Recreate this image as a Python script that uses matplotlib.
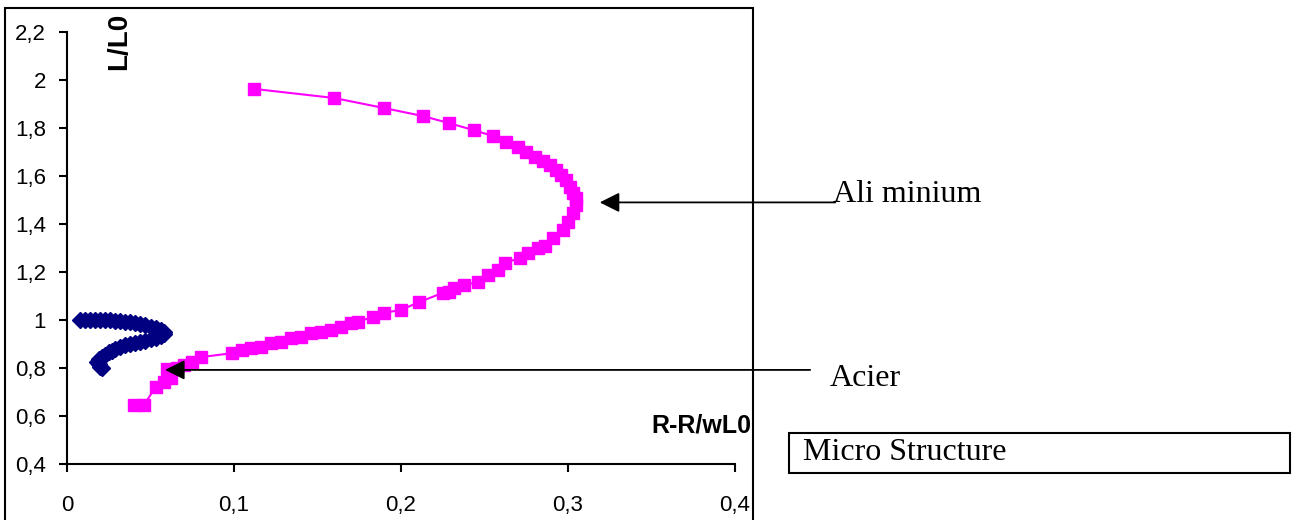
import matplotlib.pyplot as plt
from matplotlib.patches import Rectangle

# Ali minium (magenta squares)
alu_x = [0.040, 0.046, 0.053, 0.058, 0.062, 0.060, 0.066, 0.070, 0.075, 0.080,
         0.099, 0.105, 0.110, 0.116, 0.122, 0.128, 0.134, 0.140, 0.146, 0.152,
         0.158, 0.164, 0.170, 0.174, 0.183, 0.190, 0.200, 0.211, 0.225, 0.229,
         0.232, 0.238, 0.246, 0.252, 0.258, 0.262, 0.271, 0.276, 0.282, 0.286,
         0.291, 0.297, 0.300, 0.303, 0.305, 0.305, 0.303, 0.301, 0.299, 0.296,
         0.293, 0.289, 0.285, 0.280, 0.275, 0.270, 0.263, 0.255, 0.244, 0.229,
         0.213, 0.190, 0.160, 0.112]
alu_y = [0.645, 0.645, 0.720, 0.740, 0.760, 0.795, 0.800, 0.812, 0.825, 0.845,
         0.862, 0.875, 0.883, 0.887, 0.904, 0.908, 0.925, 0.929, 0.946, 0.950,
         0.958, 0.970, 0.988, 0.992, 1.013, 1.030, 1.042, 1.075, 1.113, 1.117,
         1.133, 1.146, 1.158, 1.188, 1.208, 1.237, 1.258, 1.280, 1.300, 1.310,
         1.340, 1.375, 1.410, 1.445, 1.480, 1.510, 1.530, 1.555, 1.583, 1.604,
         1.625, 1.646, 1.663, 1.680, 1.700, 1.720, 1.740, 1.767, 1.790, 1.820,
         1.850, 1.883, 1.925, 1.963]

# Acier (navy diamonds)
steel_x = [0.008, 0.011, 0.014, 0.017, 0.020, 0.023, 0.026, 0.029, 0.032, 0.035,
           0.038, 0.041, 0.044, 0.047, 0.050, 0.053, 0.056, 0.058, 0.058, 0.056,
           0.053, 0.050, 0.047, 0.044, 0.041, 0.038, 0.035, 0.032, 0.029, 0.027,
           0.025, 0.023, 0.021, 0.019, 0.018, 0.019, 0.020, 0.021]
steel_y = [1.000, 1.000, 1.000, 1.000, 1.000, 0.999, 0.998, 0.997, 0.995, 0.993,
           0.990, 0.987, 0.983, 0.978, 0.972, 0.965, 0.957, 0.948, 0.940, 0.932,
           0.926, 0.920, 0.914, 0.909, 0.904, 0.899, 0.894, 0.886, 0.878, 0.872,
           0.866, 0.856, 0.846, 0.836, 0.826, 0.815, 0.806, 0.800]

x_ticks = [0, 0.1, 0.2, 0.3, 0.4]
x_labels = ['0', '0,1', '0,2', '0,3', '0,4']
y_ticks = [0.4, 0.6, 0.8, 1.0, 1.2, 1.4, 1.6, 1.8, 2.0, 2.2]
y_labels = ['0,4', '0,6', '0,8', '1', '1,2', '1,4', '1,6', '1,8', '2', '2,2']

plt.rcParams['font.family'] = ['Liberation Sans', 'DejaVu Sans']

fig = plt.figure(figsize=(12.99, 5.2), dpi=100)
ax = fig.add_axes([67 / 1299, 1 - 464 / 520, 668 / 1299, 432 / 520])

ax.plot(steel_x, steel_y, color='#000080', marker='D', markersize=8, lw=1.5)
ax.plot(alu_x, alu_y, color='#FF00FF', marker='s', markersize=8.5, lw=1.5)

ax.set_xlim(0, 0.4)
ax.set_ylim(0.4, 2.2)
ax.set_xticks(x_ticks)
ax.set_xticklabels(x_labels)
ax.set_yticks(y_ticks)
ax.set_yticklabels(y_labels)
ax.spines['top'].set_visible(False)
ax.spines['right'].set_visible(False)
for s in ['left', 'bottom']:
    ax.spines[s].set_linewidth(1.5)
ax.tick_params(axis='both', length=6, width=1.5, labelsize=16)
ax.tick_params(axis='x', pad=16)
ax.tick_params(axis='y', pad=9)

ax.text(0.031, 2.04, 'L/L0', rotation=90, fontsize=20, fontweight='bold',
        ha='center', va='bottom')
ax.text(0.410, 0.5625, 'R-R/wL0', fontsize=18, fontweight='bold', ha='right', va='center')

# arrows and labels
arrow = dict(arrowstyle='-|>,head_length=0.6,head_width=0.3', color='black',
             lw=1.3, shrinkA=0, shrinkB=0, mutation_scale=20)
ax.annotate('', xy=(0.319, 1.49), xytext=(0.46, 1.49), arrowprops=arrow,
            annotation_clip=False)
ax.annotate('', xy=(0.0587, 0.792), xytext=(0.445, 0.792), arrowprops=arrow,
            annotation_clip=False)
fig.text(833 / 1299, 1 - 195 / 520, 'Ali minium', family='Liberation Serif',
         fontsize=23, va='center')
fig.text(830 / 1299, 1 - 378 / 520, 'Acier', family='Liberation Serif',
         fontsize=23, va='center')
fig.text(803 / 1299, 1 - 452 / 520, 'Micro Structure', family='Liberation Serif',
         fontsize=23, va='center')

# outer chart frame and text box
fig.add_artist(Rectangle((5 / 1299, -0.02), 748 / 1299, 1.02 - 8 / 520,
                         transform=fig.transFigure, fill=False, lw=1.5, ec='black'))
fig.add_artist(Rectangle((789 / 1299, 1 - 473 / 520), 501 / 1299, 40 / 520,
                         transform=fig.transFigure, fill=False, lw=1.5, ec='black'))

fig.savefig('out.png', dpi=100)
